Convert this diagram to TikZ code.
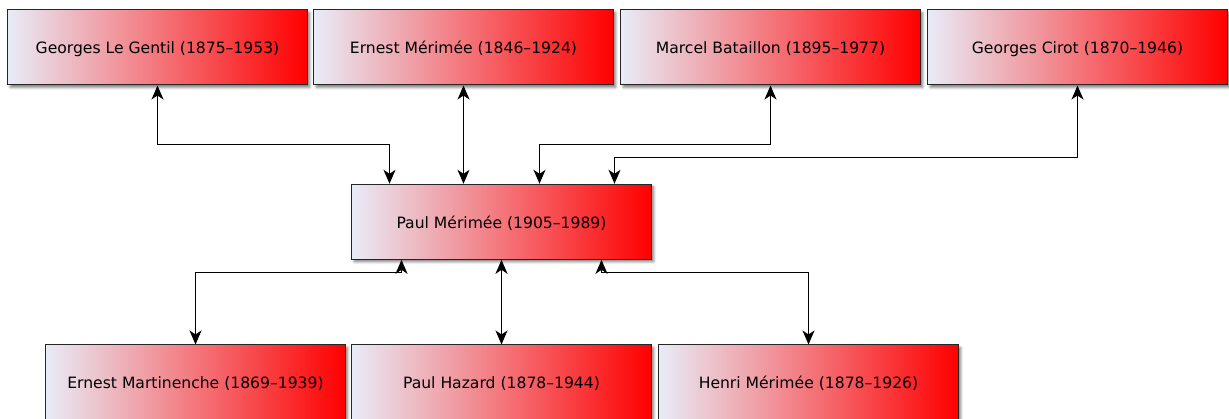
\documentclass[tikz,border=0pt]{standalone}
\usepackage{fontspec}
\setmainfont{DejaVu Sans}
\usetikzlibrary{arrows.meta,shadows.blur,calc}
\definecolor{boxleft}{RGB}{232,236,247}
\definecolor{boxright}{RGB}{255,0,0}
\tikzset{
  person/.style={draw=black!85, line width=1pt, minimum width=299.5pt, minimum height=75pt,
    inner sep=0pt, left color=boxleft, right color=boxright, shading angle=90,
    font=\fontsize{15.6}{18}\selectfont, text depth=0pt,
    blur shadow={shadow xshift=2.5pt, shadow yshift=-2.5pt, shadow blur radius=2.5pt, shadow opacity=50}},
  tip/.tip={Stealth[length=14pt,width=12pt,inset=4pt]},
  link/.style={line width=1.4pt, tip-tip}
}
\begin{document}
\begin{tikzpicture}[x=1pt,y=-1pt]
\useasboundingbox (0,0) rectangle (1229,419);
\node[person] (gl) at (157.5,47.5) {Georges Le Gentil (1875–1953)};
\node[person] (em) at (463.5,47.5) {Ernest Mérimée (1846–1924)};
\node[person] (mb) at (770.5,47.5) {Marcel Bataillon (1895–1977)};
\node[person] (gc) at (1077.5,47.5) {Georges Cirot (1870–1946)};
\node[person] (pm) at (501.5,221.8) {Paul Mérimée (1905–1989)};
\node[person] (ma) at (195.5,382.5) {Ernest Martinenche (1869–1939)};
\node[person] (ph) at (501.5,382.5) {Paul Hazard (1878–1944)};
\node[person] (hm) at (808.5,382.5) {Henri Mérimée (1878–1926)};
\coordinate (t1) at (157.5,144.5);
\coordinate (t3) at (770.5,144.5);
\coordinate (t4) at (1077.5,157.5);
\coordinate (b1) at (401.5,272.5);
\coordinate (b3) at (601.5,272.5);
\draw[link] (gl.south) -- (t1) -| ([xshift=-112pt]pm.north);
\draw[link] (em.south) -- (em.south |- pm.north);
\draw[link] (mb.south) -- (t3) -| ([xshift=38pt]pm.north);
\draw[link] (gc.south) -- (t4) -| ([xshift=113pt]pm.north);
\draw[link] (b1 |- pm.south) -- (b1) -| (ma.north);
\draw[link] (pm.south -| ph.north) -- (ph.north);
\draw[link] (b3 |- pm.south) -- (b3) -| (hm.north);
\end{tikzpicture}
\end{document}
